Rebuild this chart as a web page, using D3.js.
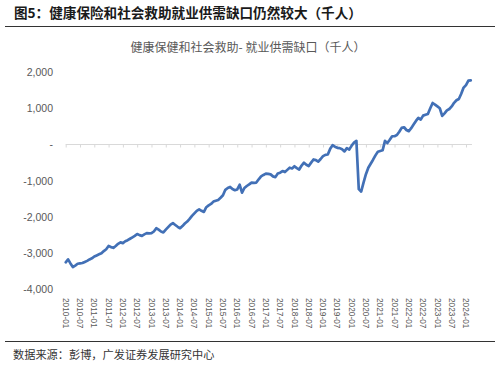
<!DOCTYPE html>
<html>
<head>
<meta charset="utf-8">
<script src="https://cdn.jsdelivr.net/npm/d3@7"></script>
<style>
html,body{margin:0;padding:0;background:#fff;}
svg{display:block;}
</style>
</head>
<body>
<svg id="chart" width="500" height="369"></svg>
<script>
const titleText = "图5：健康保险和社会救助就业供需缺口仍然较大（千人）";
const chartTitle = "健康保健和社会救助- 就业供需缺口（千人）";
const sourceText = "数据来源：彭博，广发证券发展研究中心";
const startYear = 2010, startMonth = 1;
// monthly values, 2010-01 .. 2024-03 (thousand persons)
const values = [
  -3250,-3170,-3280,-3380,-3340,-3290,-3280,-3270,-3240,-3210,-3170,-3140,
  -3090,-3060,-3030,-3000,-2940,-2890,-2800,-2830,-2850,-2800,-2740,-2700,
  -2720,-2670,-2640,-2600,-2560,-2520,-2470,-2500,-2520,-2480,-2445,-2450,
  -2445,-2400,-2310,-2350,-2400,-2425,-2350,-2280,-2210,-2170,-2220,-2270,
  -2310,-2250,-2180,-2125,-2050,-1970,-1900,-1830,-1790,-1830,-1860,-1730,
  -1680,-1640,-1575,-1550,-1530,-1470,-1400,-1250,-1200,-1170,-1230,-1260,
  -1240,-1110,-1330,-1200,-1145,-1100,-1050,-1060,-1050,-960,-880,-840,
  -805,-810,-825,-880,-900,-800,-778,-733,-760,-700,-640,-660,
  -600,-650,-690,-580,-503,-560,-596,-500,-412,-430,-475,-400,
  -320,-285,-275,-120,-20,-60,-91,-100,-130,-190,-100,-140,
  -30,50,100,-1230,-1300,-1050,-820,-640,-530,-420,-300,-200,
  -180,-160,100,40,130,228,230,260,350,459,476,400,
  366,450,549,650,733,687,797,820,843,1000,1145,1100,
  1050,1000,790,860,942,980,1050,1150,1220,1255,1400,1570,
  1640,1760,1770
];
const yTicks = [2000,1000,0,-1000,-2000,-3000,-4000];
const yTickLabels = ["2,000","1,000","-","-1,000","-2,000","-3,000","-4,000"];
const xTickMonths = d3.range(0, 169, 6);
const xTickLabels = xTickMonths.map(i => {
  const y = startYear + Math.floor((i + startMonth - 1) / 12);
  const m = ((i + startMonth - 1) % 12) + 1;
  return y + "-" + String(m).padStart(2, "0");
});

const svg = d3.select("#chart");
const font = "'Liberation Sans', Arial, 'Noto Sans CJK SC', sans-serif";
const cjk = "'Noto Sans CJK SC', sans-serif";

// header
svg.append("text").attr("x", 14).attr("y", 18)
  .attr("font-family", cjk).attr("font-size", 13.6).attr("font-weight", "bold")
  .attr("fill", "#1a1a1a").text(titleText);
svg.append("line").attr("x1", 5).attr("x2", 495).attr("y1", 26.5).attr("y2", 26.5)
  .attr("stroke", "#333").attr("stroke-width", 1);

svg.append("text").attr("x", 248).attr("y", 52).attr("text-anchor", "middle")
  .attr("font-family", cjk).attr("font-size", 12).attr("fill", "#595959").text(chartTitle);

const x = d3.scaleLinear().domain([0, 168]).range([65.7, 466]);
const y = d3.scaleLinear().domain([-4000, 2000]).range([289.5, 72]);

// y axis labels (no line)
const yAxis = d3.axisLeft(y).tickValues(yTicks).tickSize(0).tickPadding(0)
  .tickFormat((d, i) => yTickLabels[i]);
const gy = svg.append("g").attr("transform", "translate(53,0)").call(yAxis);
gy.select(".domain").remove();
gy.selectAll("text").attr("font-family", font).attr("font-size", 10.5).attr("fill", "#595959");

// x axis at zero
const xAxis = d3.axisBottom(x).tickValues(xTickMonths).tickSize(3).tickFormat("");
const gx = svg.append("g").attr("transform", `translate(0,${y(0)})`).call(xAxis);
gx.select(".domain").attr("d", `M${x(0)},0H${x(values.length - 0.5)}`).attr("stroke", "#d9d9d9");
gx.selectAll(".tick line").attr("stroke", "#d9d9d9");

// x labels at bottom, rotated
svg.append("g").selectAll("text").data(xTickMonths).join("text")
  .attr("transform", (d) => `translate(${x(d)},298) rotate(90)`)
  .attr("dy", "0.35em")
  .attr("font-family", font).attr("font-size", 8.3).attr("fill", "#595959")
  .text((d, i) => xTickLabels[i]);

// line
const line = d3.line().x((d, i) => x(i)).y(d => y(d));
svg.append("path").datum(values).attr("d", line)
  .attr("fill", "none").attr("stroke", "#4270b6").attr("stroke-width", 2.7)
  .attr("stroke-linejoin", "round").attr("stroke-linecap", "round");

// footer
svg.append("line").attr("x1", 5).attr("x2", 495).attr("y1", 341.5).attr("y2", 341.5)
  .attr("stroke", "#333").attr("stroke-width", 1);
svg.append("text").attr("x", 13).attr("y", 359)
  .attr("font-family", cjk).attr("font-size", 11.2).attr("fill", "#333").text(sourceText);
</script>
</body>
</html>
